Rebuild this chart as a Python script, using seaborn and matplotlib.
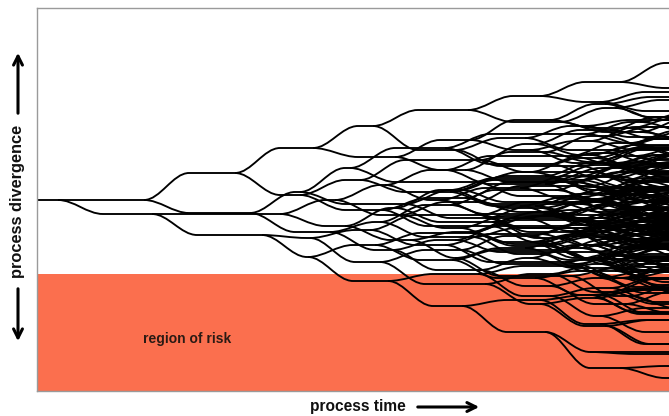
import matplotlib
matplotlib.use("Agg")
import matplotlib.pyplot as plt
import seaborn as sns
import pandas as pd
from matplotlib.path import Path
from matplotlib.patches import PathPatch, FancyArrowPatch

# ---------------- data (pixel-like units) ----------------
START_TIME = 37
START_LEVEL = 200
RISK_LEVEL = 274          # divergence beyond which lies the region of risk
TIME_MAX = 669
DIV_MIN, DIV_MAX = 8, 391

# branching tree: each generation lists the change in divergence of every child
# (two children per parent) and the time at which each parent splits
SPLIT_0 = [58]
DELTA_1 = [0, 14]
SPLIT_1 = [144, 152]
DELTA_2 = [-27, 13, 0, 21]
SPLIT_2 = [235, 250, 280, 262]
DELTA_3 = [-25, 22, -21, 19, -14, 12, 3, 22]
SPLIT_3 = [313, 300, 300, 330, 335, 345, 310, 308]
DELTA_4 = [-22, 9, -15, 15, -24, 12, -10, 18, -15, 15, -18, 14, -8, 24, -12, 24]
SPLIT_4 = [373, 395, 360, 382, 350, 405, 380, 392, 385, 400, 395, 410, 370, 380, 375, 388]
DELTA_5 = [-16, 24, -17, 13, -20, 12, -12, 16, -20, 14, -14, 14, -17, 15, -10, 20,
           -15, 15, -13, 13, -18, 14, -8, 18, -15, 15, -12, 22, -12, 15, -7, 25]
SPLIT_5 = [468, 455, 470, 445, 480, 450, 465, 490, 445, 475, 460, 485, 450, 472, 455, 480,
           465, 440, 475, 460, 450, 492, 470, 455, 480, 445, 460, 485, 470, 452, 478, 462]
DELTA_6 = [-14, 12, -12, 16, -20, 10, -14, 14, -16, 12, -12, 14, -16, 10, -10, 16,
           -14, 16, -10, 14, -14, 12, -12, 14, -15, 13, -9, 17, -14, 12, -12, 16,
           -18, 12, -12, 14, -16, 10, -12, 14, -12, 14, -10, 16, -14, 12, -10, 18,
           -13, 13, -11, 17, -14, 14, -10, 20, -13, 13, -10, 18, -8, 22, -6, 26]
SPLIT_6 = [540, 560, 525, 580, 550, 530, 570, 545, 535, 590, 555, 520, 575, 540, 560, 540,
           585, 550, 530, 565, 545, 600, 535, 570, 555, 525, 580, 540, 560, 595, 530, 550,
           545, 575, 520, 560, 590, 540, 565, 530, 550, 580, 545, 560, 600, 545, 525, 570,
           555, 590, 540, 565, 530, 575, 550, 540, 585, 545, 560, 535, 570, 550, 540, 545]
DELTA_7 = [-14, 6, -14, 10, -12, 12, -10, 14, -16, 8, -9, 13, -13, 9, -8, 15,
           -14, 11, -10, 10, -12, 14, -9, 12, -15, 9, -7, 14, -12, 10, -10, 16,
           -12, 9, -11, 13, -14, 8, -8, 14, -13, 11, -10, 12, -12, 9, -9, 15,
           -14, 10, -8, 13, -11, 11, -9, 17, -12, 12, -10, 15, -13, 10, -8, 18,
           -16, 10, -10, 12, -12, 11, -9, 14, -14, 9, -10, 13, -11, 10, -8, 16,
           -13, 12, -9, 11, -12, 13, -10, 14, -11, 9, -9, 15, -12, 12, -8, 20,
           -12, 10, -10, 13, -13, 11, -8, 16, -11, 12, -9, 14, -10, 18, -6, 22,
           -12, 10, -9, 13, -11, 14, -7, 17, -10, 12, -8, 20, -5, 24, 20, 36]
SPLIT_7 = [620, 600, 615, 640, 585, 610, 635, 625, 605, 630, 590, 615, 630, 620, 600, 625,
           610, 590, 640, 650, 620, 605, 580, 600, 625, 645, 595, 615, 610, 635, 600, 590,
           640, 635, 605, 620, 595, 580, 615, 630, 600, 620, 650, 645, 590, 610, 625, 640,
           610, 600, 585, 600, 630, 640, 600, 615, 620, 605, 645, 655, 590, 605, 600, 625,
           605, 595, 625, 635, 580, 595, 615, 605, 640, 650, 600, 590, 620, 635, 585, 600,
           610, 600, 630, 645, 595, 615, 610, 625, 650, 645, 605, 595, 580, 590, 620, 630,
           605, 620, 645, 640, 600, 590, 615, 630, 590, 580, 630, 625, 600, 610, 595, 605,
           640, 635, 600, 620, 615, 605, 590, 600, 625, 620, 610, 600, 590, 600, 590, 620]
DELTA_8 = [-19, 6, -10, 9, -8, 12, -13, 7, -6, 11, -11, 10, -9, 14, -12, 8,
           -7, 13, -10, 10, -14, 9, -8, 11, -12, 12, -9, 8, -11, 13, -6, 10,
           -13, 9, -10, 12, -8, 8, -12, 11, -9, 13, -14, 7, -7, 12, -10, 9,
           -11, 11, -8, 14, -12, 9, -9, 10, -13, 12, -6, 13, -10, 8, -12, 14,
           -9, 9, -11, 12, -7, 10, -13, 11, -10, 13, -8, 9, -12, 10, -9, 15,
           -14, 10, -8, 12, -11, 9, -10, 11, -12, 8, -7, 14, -9, 10, -13, 12,
           -10, 13, -12, 9, -8, 11, -11, 12, -9, 8, -13, 10, -6, 12, -10, 14,
           -12, 11, -9, 10, -14, 12, -8, 9, -11, 13, -10, 10, -7, 15, -12, 9,
           -9, 12, -13, 10, -10, 9, -8, 13, -12, 11, -11, 8, -9, 14, -7, 10,
           -11, 10, -8, 11, -13, 13, -10, 9, -6, 12, -12, 10, -9, 11, -14, 12,
           -10, 9, -12, 12, -8, 10, -11, 14, -13, 9, -9, 12, -10, 11, -8, 16,
           -12, 10, -7, 13, -10, 9, -13, 11, -9, 12, -11, 10, -8, 14, -12, 12,
           -9, 11, -10, 12, -12, 8, -8, 13, -11, 11, -10, 14, -13, 10, -7, 15,
           -11, 9, -9, 13, -12, 11, -10, 10, -8, 14, -13, 12, -9, 16, -6, 18,
           -10, 12, -12, 9, -9, 11, -11, 13, -8, 10, -10, 15, -7, 16, -5, 18,
           -12, 10, -9, 12, -10, 14, -8, 16, -6, 17, -4, 20, 0, 2, -2, 10]

SPLITS = [SPLIT_0, SPLIT_1, SPLIT_2, SPLIT_3, SPLIT_4, SPLIT_5, SPLIT_6, SPLIT_7]
DELTAS = [DELTA_1, DELTA_2, DELTA_3, DELTA_4, DELTA_5, DELTA_6, DELTA_7, DELTA_8]

# ---------------- build tree table ----------------
TRANS = 45  # length of a branching transition
rows = []
levels = [START_LEVEL]
for g, (splits, deltas) in enumerate(zip(SPLITS, DELTAS)):
    new_levels = []
    for i, d in enumerate(deltas):
        p = i // 2
        new_levels.append(levels[p] + d)
        rows.append(dict(gen=g + 1, idx=i, parent=p, start=splits[p],
                         y0=levels[p], y1=levels[p] + d))
    levels = new_levels
tree = pd.DataFrame(rows)

def end_time(g, i):
    if g < len(SPLITS):
        return SPLITS[g][i]
    return TIME_MAX + 20

# ---------------- figure ----------------
sns.set_theme(style="white")
plt.rcParams["font.family"] = ["Liberation Sans", "DejaVu Sans"]

W, H = 669, 416
fig = plt.figure(figsize=(W / 100, H / 100), dpi=100)
ax = fig.add_axes([37 / W, 1 - DIV_MAX / H, 1 - 37 / W, (DIV_MAX - DIV_MIN) / H])
ax.set_xlim(START_TIME, TIME_MAX)
ax.set_ylim(DIV_MAX, DIV_MIN)
ax.axhspan(RISK_LEVEL, DIV_MAX, color="#FB6F4E", lw=0, zorder=0)

lw = 1.35
k = 0.36
ax.plot([START_TIME, SPLIT_0[0]], [START_LEVEL, START_LEVEL], color="black", lw=lw,
        solid_capstyle="butt", zorder=2)
for r in tree.itertuples():
    x0 = r.start
    x1 = x0 + TRANS
    xe = max(end_time(r.gen, r.idx), x1)
    verts = [(x0, r.y0), (x0 + k * TRANS, r.y0), (x1 - k * TRANS, r.y1), (x1, r.y1),
             (xe, r.y1)]
    codes = [Path.MOVETO, Path.CURVE4, Path.CURVE4, Path.CURVE4, Path.LINETO]
    ax.add_patch(PathPatch(Path(verts, codes), fill=False, edgecolor="black",
                           lw=lw, capstyle="butt", zorder=2))

ax.set_xticks([])
ax.set_yticks([])
for s in ["left", "top", "bottom"]:
    ax.spines[s].set_color("#9a9a9a")
    ax.spines[s].set_linewidth(1.0)
ax.spines["right"].set_visible(False)

ax.text(143, 339, "region of risk", fontsize=10, fontweight="bold", ha="left",
        va="center", color="#2a1a14", zorder=3)

# axis labels with arrows
fig.text(310 / W, 1 - 407 / H, "process time", fontsize=11.2, fontweight="bold",
         ha="left", va="center", color="#111111")
fig.add_artist(FancyArrowPatch(
    (415 / W, 1 - 407 / H), (482 / W, 1 - 407 / H), transform=fig.transFigure,
    arrowstyle="->", mutation_scale=16, lw=2.2, color="black"))

fig.text(18 / W, 1 - 201 / H, "process divergence", fontsize=11.8, fontweight="bold",
         rotation=90, ha="center", va="center", color="#111111")
fig.add_artist(FancyArrowPatch(
    (18 / W, 1 - 116 / H), (18 / W, 1 - 50 / H), transform=fig.transFigure,
    arrowstyle="->", mutation_scale=16, lw=2.2, color="black"))
fig.add_artist(FancyArrowPatch(
    (18 / W, 1 - 286 / H), (18 / W, 1 - 344 / H), transform=fig.transFigure,
    arrowstyle="->", mutation_scale=16, lw=2.2, color="black"))

fig.savefig("out.png", dpi=100)
